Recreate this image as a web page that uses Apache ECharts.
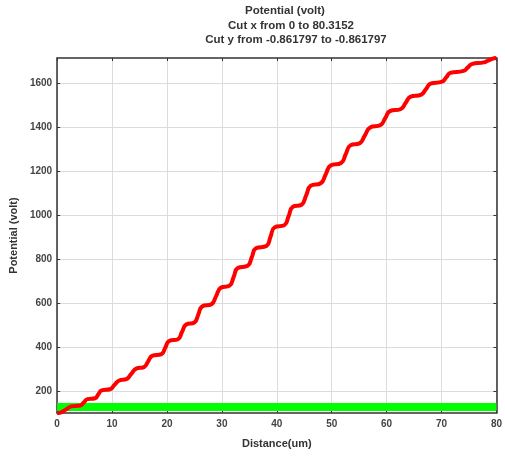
<!DOCTYPE html>
<html><head><meta charset="utf-8">
<script src="https://cdn.jsdelivr.net/npm/echarts@6/dist/echarts.min.js"></script>
<style>html,body{margin:0;padding:0;background:#fff}#c{width:505px;height:457px}</style>
</head><body><div id="c"></div>
<script>
var titleLines = ["Potential (volt)", "Cut x from 0 to 80.3152", "Cut y from -0.861797 to -0.861797"];
var xName = "Distance(um)";
var yName = "Potential (volt)";
var xTickLabels = [0, 10, 20, 30, 40, 50, 60, 70, 80];
var yTickLabels = [200, 400, 600, 800, 1000, 1200, 1400, 1600];
// red potential curve (distance, volt): plateau edges and riser centres
var redX = [0, 0.6, 1.6, 2.6, 4.2, 4.85, 5.5, 6.9, 7.5, 8.1, 9.6, 10.45, 11.3, 12.6, 13.5, 14.4,
  15.8, 16.55, 17.3, 19.0, 19.7, 20.4, 22.0, 22.75, 23.5, 25.0, 25.7, 26.4, 28.1, 28.95, 29.8,
  31.4, 32.15, 32.9, 34.7, 35.45, 36.2, 38.1, 38.85, 39.6, 41.4, 42.15, 42.9, 44.5, 45.35, 46.2,
  48.0, 48.9, 49.8, 51.7, 52.55, 53.4, 55.1, 56.05, 57.0, 58.9, 59.75, 60.6, 62.6, 63.45, 64.3,
  66.3, 67.15, 68.0, 70.1, 70.85, 71.6, 74.0, 74.75, 75.5, 77.7, 78.45, 79.2, 80];
var redY = [100, 102, 116, 130, 134, 148, 163, 167, 185, 203, 208, 228, 248, 254, 278, 302,
  309, 334, 360, 368, 398, 428, 436, 470, 503, 512, 548, 585, 595, 632, 670,
  680, 720, 760, 770, 810, 850, 860, 902, 945, 955, 996, 1038, 1048, 1091, 1135,
  1146, 1186, 1227, 1238, 1278, 1318, 1328, 1364, 1400, 1411, 1442, 1474, 1484, 1511, 1539,
  1549, 1574, 1599, 1608, 1628, 1648, 1657, 1672, 1688, 1696, 1704, 1712, 1716];
var greenX = [0, 80];
var greenY = [127, 127];

var redData = redX.map(function (x, i) { return [x, redY[i]]; });
var greenData = greenX.map(function (x, i) { return [x, greenY[i]]; });

var chart = echarts.init(document.getElementById('c'));
var frame = { show: true, onZero: false, lineStyle: { color: '#333', width: 1.5 } };
var labelFont = { fontFamily: 'Liberation Sans, Arial, sans-serif', fontSize: 10, fontWeight: 'bold', color: '#444',
  formatter: function (v) { return String(v); } };
chart.setOption({
  animation: false,
  graphic: titleLines.map(function (t, i) {
    return { type: 'text', x: [285, 291, 296][i], y: 11 + i * 14.5,
      style: { text: t, textAlign: 'center', textVerticalAlign: 'middle',
        font: 'bold 11.5px "Liberation Sans", Arial, sans-serif', fill: '#333' } };
  }),
  grid: { left: 57, right: 7, top: 58, bottom: 44 },
  xAxis: [{
    type: 'value', min: 0, max: 80, interval: 5, position: 'bottom',
    name: xName, nameLocation: 'middle', nameGap: 25,
    nameTextStyle: { fontFamily: 'Liberation Sans, Arial, sans-serif', fontSize: 11, fontWeight: 'bold', color: '#333' },
    axisLine: frame,
    axisTick: { show: true, inside: true, length: 3, customValues: xTickLabels, lineStyle: { color: '#333' } },
    axisLabel: Object.assign({ margin: 6, customValues: xTickLabels }, labelFont),
    splitLine: { show: true, lineStyle: { color: '#dcdcdc', width: 1 } }
  }, {
    type: 'value', min: 0, max: 80, interval: 5, position: 'top',
    axisLine: frame,
    axisTick: { show: true, inside: true, length: 3, customValues: xTickLabels, lineStyle: { color: '#333' } },
    axisLabel: { show: false }, splitLine: { show: false }
  }],
  yAxis: [{
    type: 'value', min: 100, max: 1716, interval: 100, position: 'left',
    name: yName, nameLocation: 'middle', nameGap: 34, nameRotate: 90,
    nameTextStyle: { fontFamily: 'Liberation Sans, Arial, sans-serif', fontSize: 11, fontWeight: 'bold', color: '#333' },
    axisLine: frame,
    axisTick: { show: true, inside: true, length: 3, customValues: yTickLabels, lineStyle: { color: '#333' } },
    axisLabel: Object.assign({ margin: 5, customValues: yTickLabels }, labelFont),
    splitLine: { show: true, lineStyle: { color: '#dcdcdc', width: 1 } }
  }, {
    type: 'value', min: 100, max: 1716, interval: 100, position: 'right',
    axisLine: frame,
    axisTick: { show: true, inside: true, length: 3, customValues: yTickLabels, lineStyle: { color: '#333' } },
    axisLabel: { show: false }, splitLine: { show: false }
  }],
  series: [{
    type: 'line', data: greenData, showSymbol: false, silent: true,
    lineStyle: { color: '#00ff00', width: 8 }, z: 2
  }, {
    type: 'line', data: redData, showSymbol: false, silent: true,
    smooth: 0.5,
    lineStyle: { color: '#ff0000', width: 4 }, z: 3
  }]
});
</script></body></html>
